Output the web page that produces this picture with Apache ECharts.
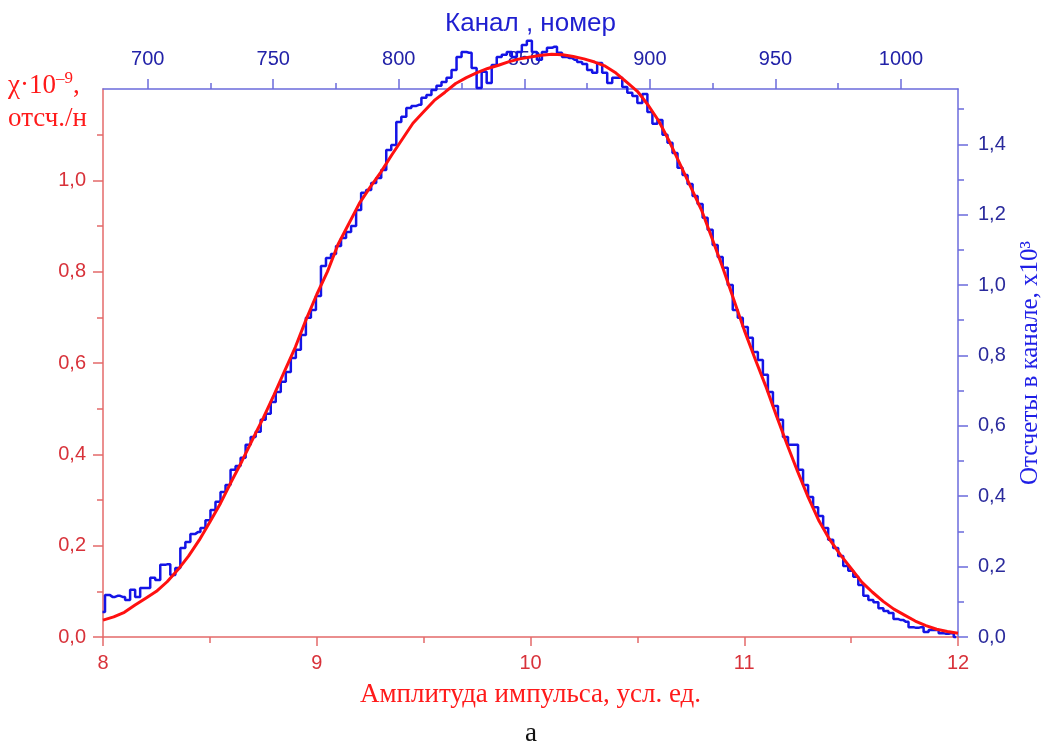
<!DOCTYPE html>
<html>
<head>
<meta charset="utf-8">
<script src="https://cdn.jsdelivr.net/npm/echarts@6/dist/echarts.min.js"></script>
<style>
  html, body { margin: 0; background: #fff; }
  #chart { width: 1050px; height: 747px; }
</style>
</head>
<body>
<div id="chart"></div>
<script>
// расчётная кривая: амплитуда 8..12 с шагом 0.05 (левая ось, χ·10^-9)
var ampStart = 8, ampStep = 0.05;
var fitValues = [
  0.037, 0.044, 0.054, 0.070, 0.085, 0.100, 0.121, 0.147, 0.177, 0.212,
  0.252, 0.293, 0.340, 0.385, 0.433, 0.480, 0.530, 0.583, 0.635, 0.695,
  0.750, 0.800, 0.860, 0.905, 0.950, 0.985, 1.018, 1.055, 1.090, 1.125,
  1.150, 1.175, 1.193, 1.212, 1.225, 1.236, 1.245, 1.252, 1.260, 1.266,
  1.270, 1.274, 1.276, 1.275, 1.271, 1.266, 1.259, 1.250, 1.235, 1.215,
  1.195, 1.165, 1.130, 1.085, 1.035, 0.985, 0.935, 0.872, 0.808, 0.740,
  0.672, 0.610, 0.550, 0.485, 0.422, 0.362, 0.305, 0.254, 0.213, 0.180,
  0.150, 0.120, 0.098, 0.078, 0.061, 0.048, 0.035, 0.025, 0.017, 0.012,
  0.008
];

// измеренный спектр: каналы 682..1022 с шагом 2 (правая ось, x10^3)
var channelStart = 682, channelStep = 2;
var countValues = [
  0.071, 0.119, 0.114, 0.117, 0.114, 0.105, 0.134, 0.114, 0.139, 0.139,
  0.168, 0.162, 0.205, 0.207, 0.176, 0.196, 0.253, 0.270, 0.293, 0.298,
  0.310, 0.332, 0.361, 0.384, 0.412, 0.432, 0.475, 0.486, 0.509, 0.546,
  0.568, 0.583, 0.617, 0.634, 0.668, 0.696, 0.725, 0.753, 0.793, 0.816,
  0.858, 0.907, 0.929, 0.969, 1.054, 1.077, 1.088, 1.111, 1.134, 1.151,
  1.168, 1.213, 1.262, 1.270, 1.290, 1.304, 1.327, 1.384, 1.398, 1.463,
  1.478, 1.503, 1.509, 1.512, 1.532, 1.540, 1.554, 1.566, 1.577, 1.589,
  1.611, 1.648, 1.662, 1.660, 1.617, 1.560, 1.606, 1.574, 1.625, 1.648,
  1.654, 1.662, 1.648, 1.662, 1.682, 1.694, 1.662, 1.640, 1.662, 1.674,
  1.677, 1.660, 1.648, 1.645, 1.640, 1.634, 1.628, 1.611, 1.603, 1.631,
  1.603, 1.574, 1.589, 1.589, 1.563, 1.546, 1.537, 1.517, 1.543, 1.492,
  1.458, 1.469, 1.427, 1.404, 1.375, 1.333, 1.313, 1.287, 1.253, 1.230,
  1.191, 1.157, 1.114, 1.080, 1.049, 1.000, 0.929, 0.907, 0.881, 0.850,
  0.810, 0.787, 0.745, 0.696, 0.656, 0.617, 0.568, 0.546, 0.546, 0.475,
  0.432, 0.398, 0.369, 0.344, 0.310, 0.276, 0.253, 0.230, 0.202, 0.188,
  0.171, 0.148, 0.117, 0.105, 0.099, 0.082, 0.074, 0.068, 0.051, 0.048,
  0.043, 0.028, 0.026, 0.028, 0.014, 0.020, 0.020, 0.011, 0.009, 0.011,
  0.000
];

var leftTicks = [0, 0.2, 0.4, 0.6, 0.8, 1.0];
var rightTicks = [0, 0.2, 0.4, 0.6, 0.8, 1.0, 1.2, 1.4];
var rightMinor = [0.1, 0.3, 0.5, 0.7, 0.9, 1.1, 1.3, 1.5];
var topTicks = [700, 750, 800, 850, 900, 950, 1000];
var topMinor = [725, 775, 825, 875, 925, 975];

var fitData = fitValues.map(function (v, i) { return [ampStart + i * ampStep, v]; });
var countData = countValues.map(function (v, i) { return [channelStart + i * channelStep, v]; });

var SANS = '"Liberation Sans", Arial, sans-serif';
var SERIF = '"Liberation Serif", "Times New Roman", serif';
var redLine = '#e46a6a', redText = '#d8323a';
var blueLine = '#6b6bdc', blueText = '#2222a8';

function comma(v) { return v.toFixed(1).replace('.', ','); }

var chart = echarts.init(document.getElementById('chart'));
chart.setOption({
  backgroundColor: '#fff',
  animation: false,
  grid: { left: 103, right: 92, top: 89, bottom: 110, containLabel: false, outerBoundsMode: 'none' },
  xAxis: [
    {
      type: 'value', position: 'bottom', min: 8, max: 12, interval: 1,
      axisLine: { onZero: false, lineStyle: { color: redLine, width: 1.5 } },
      axisTick: { length: 9, lineStyle: { color: redLine, width: 1.5 } },
      minorTick: { show: true, splitNumber: 2, length: 6, lineStyle: { color: redLine, width: 1.5 } },
      axisLabel: { color: redText, fontSize: 20, fontFamily: SANS, margin: 16 },
      splitLine: { show: false },
      name: 'Амплитуда импульса, усл. ед.', nameLocation: 'middle', nameGap: 44,
      nameTextStyle: { color: '#ff1a1a', fontFamily: SERIF, fontSize: 27 }
    },
    {
      type: 'value', position: 'top', min: 682.2, max: 1022.7,
      axisLine: { onZero: false, lineStyle: { color: blueLine, width: 1.5 } },
      axisTick: { customValues: topTicks, length: 10, lineStyle: { color: blueLine, width: 1.5 } },
      axisLabel: { customValues: topTicks, color: blueText, fontSize: 20, fontFamily: SANS, margin: 20,
        formatter: function (v) { return String(v); } },
      splitLine: { show: false },
      name: 'Канал , номер', nameLocation: 'middle', nameGap: 52,
      nameTextStyle: { color: '#1f1fd0', fontFamily: SANS, fontSize: 26 }
    },
    {
      type: 'value', position: 'top', min: 682.2, max: 1022.7,
      axisLine: { show: false, onZero: false },
      axisTick: { customValues: topMinor, length: 6, lineStyle: { color: blueLine, width: 1.5 } },
      axisLabel: { show: false },
      splitLine: { show: false }
    }
  ],
  yAxis: [
    {
      type: 'value', position: 'left', min: 0, max: 1.2, interval: 0.2,
      axisLine: { show: true, onZero: false, lineStyle: { color: redLine, width: 1.5 } },
      axisTick: { show: true, customValues: leftTicks, length: 10, lineStyle: { color: redLine, width: 1.5 } },
      minorTick: { show: true, splitNumber: 2, length: 6, lineStyle: { color: redLine, width: 1.5 } },
      axisLabel: { customValues: leftTicks, color: redText, fontSize: 20, fontFamily: SANS, margin: 17, formatter: comma },
      splitLine: { show: false }
    },
    {
      type: 'value', position: 'right', min: 0, max: 1.557,
      axisLine: { show: true, onZero: false, lineStyle: { color: blueLine, width: 1.5 } },
      axisTick: { show: true, customValues: rightTicks, length: 10, lineStyle: { color: blueLine, width: 1.5 } },
      axisLabel: { customValues: rightTicks, color: '#2a2a9c', fontSize: 20, fontFamily: SANS, margin: 20, formatter: comma },
      splitLine: { show: false },
      name: 'Отсчеты в канале, x10³', nameLocation: 'middle', nameRotate: 90, nameGap: 60,
      nameTextStyle: { color: '#1f1fe6', fontFamily: SERIF, fontSize: 25 }
    },
    {
      type: 'value', position: 'right', min: 0, max: 1.557,
      axisLine: { show: false, onZero: false },
      axisTick: { show: true, customValues: rightMinor, length: 6, lineStyle: { color: blueLine, width: 1.5 } },
      axisLabel: { show: false },
      splitLine: { show: false }
    }
  ],
  graphic: [
    {
      type: 'text', left: 8, top: 70,
      style: {
        text: '{a|χ·10}{s|–9}{a|,}\n{a|отсч./н}',
        rich: {
          a: { fontFamily: SERIF, fontSize: 27, fill: '#ff1a1a', lineHeight: 33 },
          s: { fontFamily: SERIF, fontSize: 17, fill: '#ff1a1a', padding: [0, 0, 14, 0], lineHeight: 33 }
        }
      }
    },
    {
      type: 'text', x: 531, y: 720,
      style: { text: 'а', fontFamily: SERIF, fontSize: 27, fill: '#111', textAlign: 'center' }
    }
  ],
  series: [
    {
      type: 'line', name: 'counts', xAxisIndex: 1, yAxisIndex: 1,
      data: countData, step: 'middle', showSymbol: false, clip: false,
      lineStyle: { color: '#1414e6', width: 2.5 }
    },
    {
      type: 'line', name: 'fit', xAxisIndex: 0, yAxisIndex: 0,
      data: fitData, showSymbol: false, clip: false,
      lineStyle: { color: '#ff1010', width: 3 }
    }
  ]
});
</script>
</body>
</html>
